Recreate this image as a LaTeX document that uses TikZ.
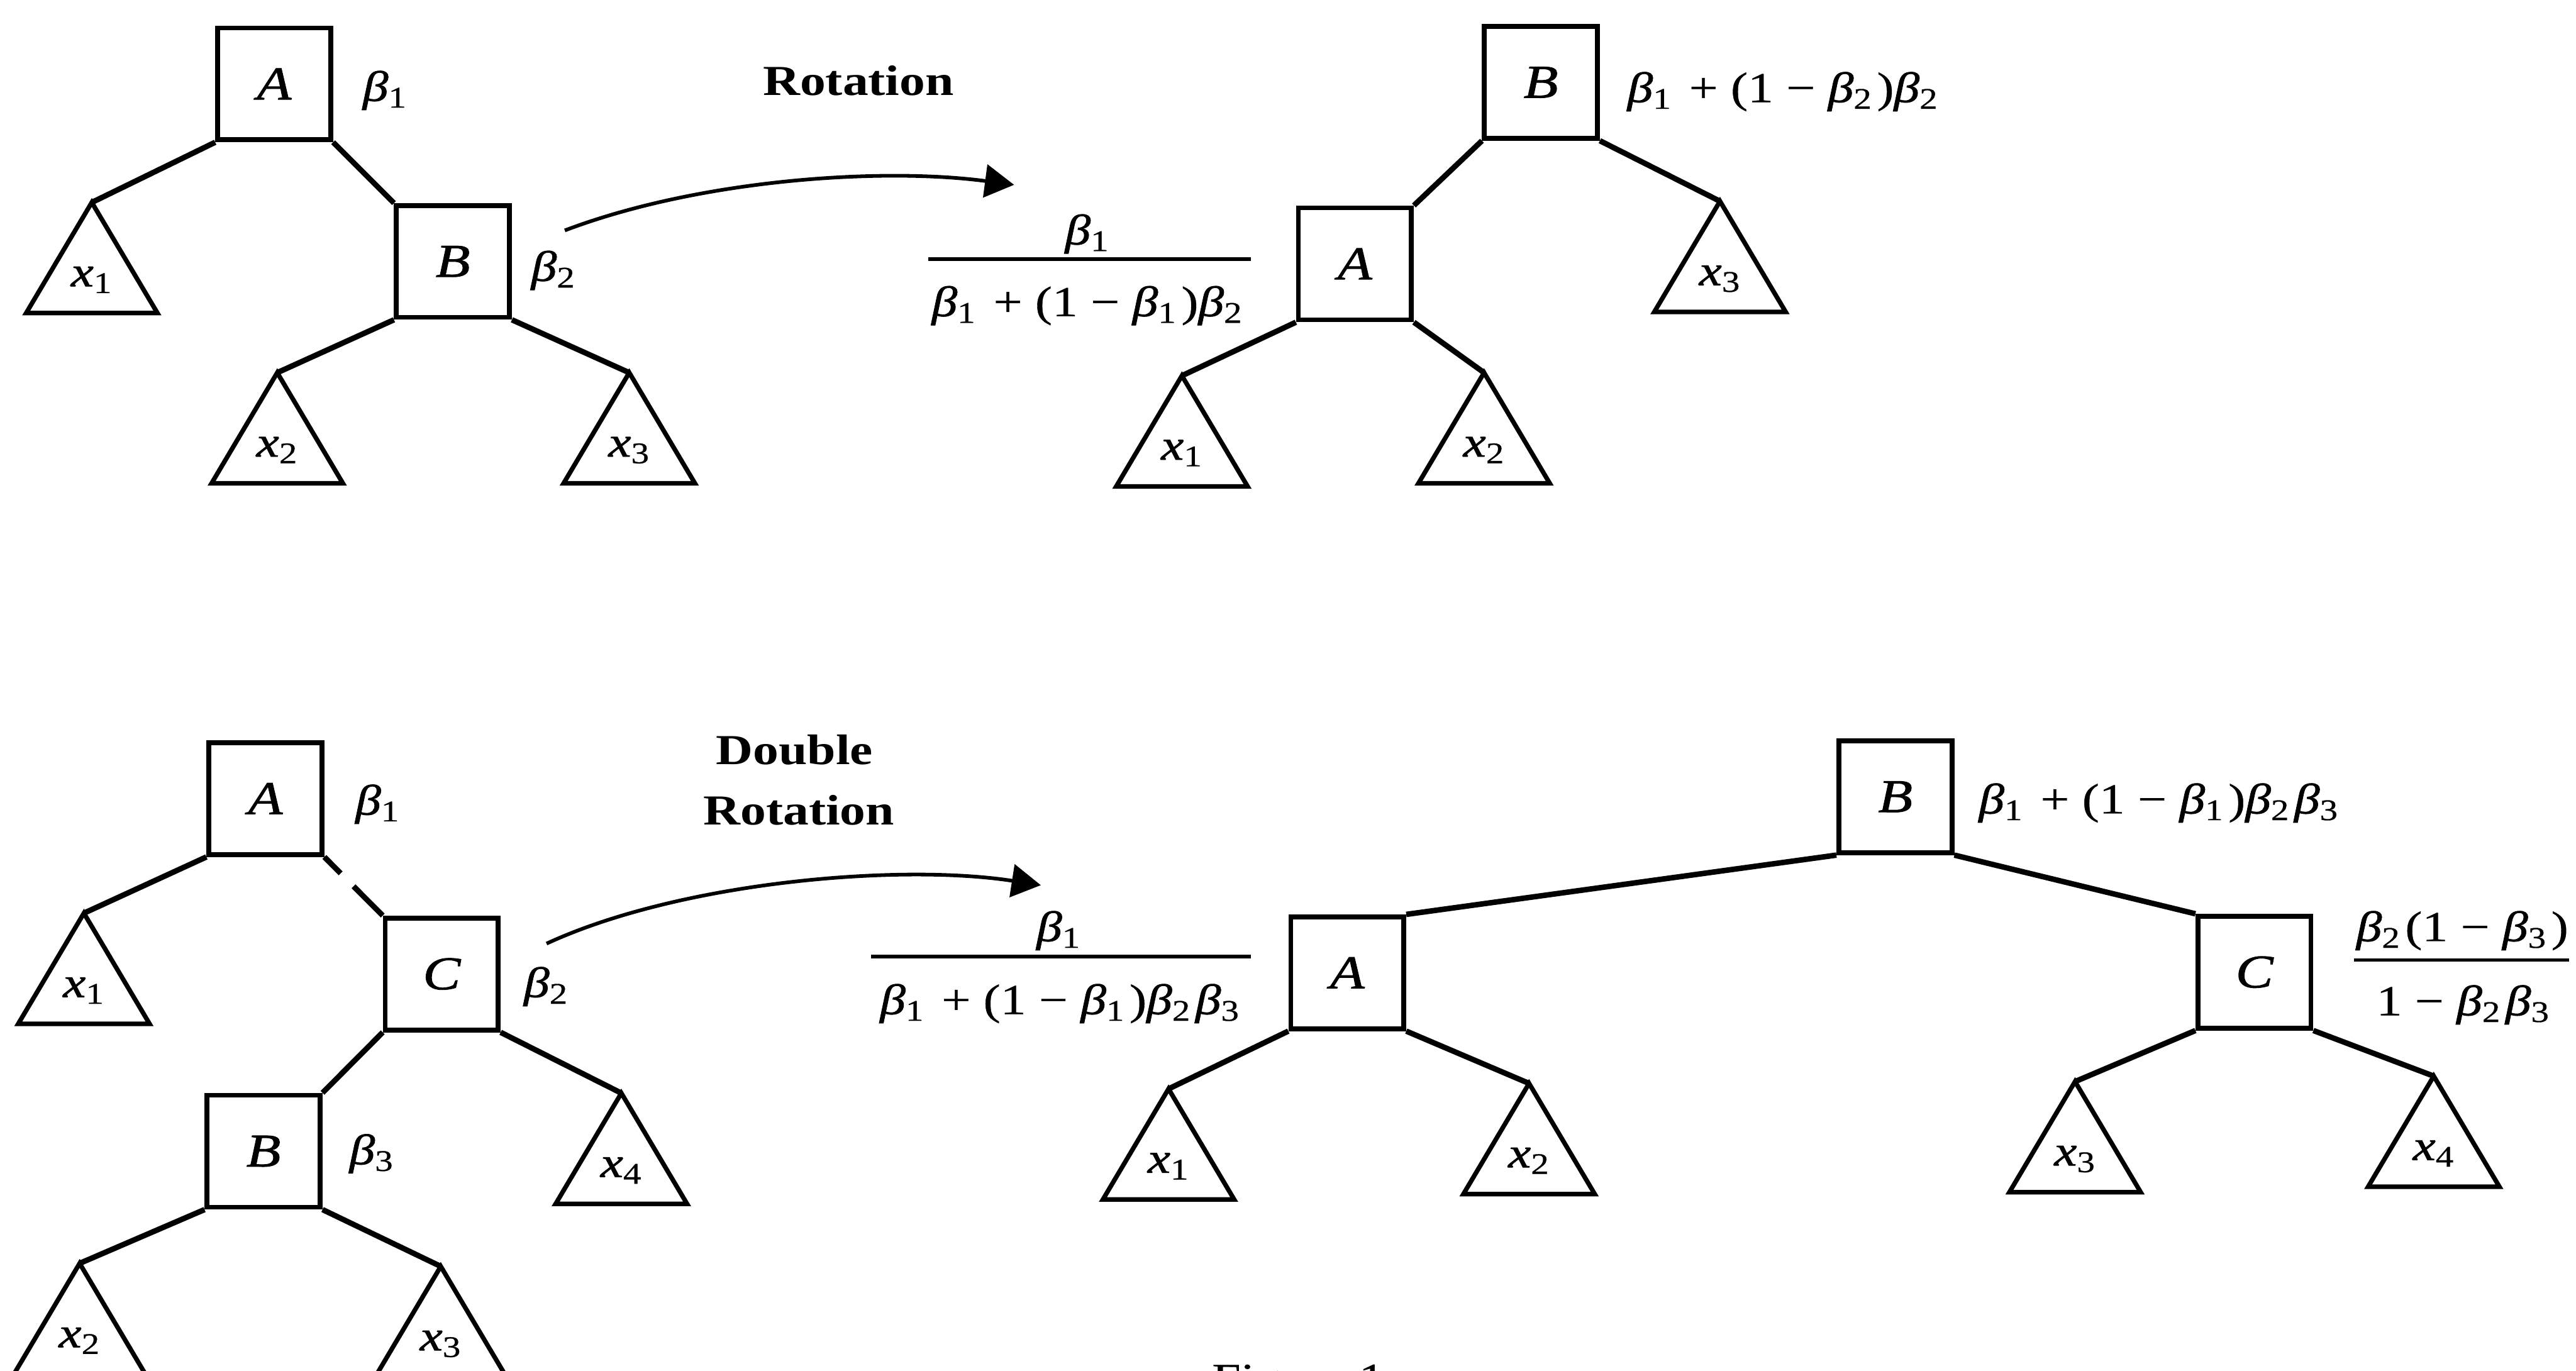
\documentclass[tikz,border=0pt]{standalone}
\usepackage{fontspec}
\setmainfont{Liberation Serif}[FakeStretch=1.2, ItalicFeatures={FakeBold=1.2}, UprightFeatures={FakeBold=0.6}]
\usetikzlibrary{arrows.meta,calc}
\newcommand\Bt[1]{\textit{β}\textsubscript{#1}\kern0.1em}
\newcommand\Pl{\kern0.3em+\kern0.3em}
\newcommand\Mi{\kern0.3em−\kern0.3em}
\newcommand\Xs[1]{\textit{x}\textsubscript{#1}}
\newcommand\lblsize{\fontsize{20}{24}\selectfont}
\newcommand\boxsize{\fontsize{22}{26}\selectfont}
\tikzset{
  bx/.style={draw, line width=0.08cm, minimum width=1.86cm, minimum height=1.84cm, inner sep=0pt, font=\boxsize\itshape},
  edge/.style={line width=0.09cm},
  tri/.style={line width=0.075cm, line join=miter},
  lbl/.style={font=\lblsize, inner sep=0pt},
  ttl/.style={font=\lblsize\bfseries, inner sep=0pt},
  arr/.style={line width=0.06cm, -{Triangle[length=0.48cm,width=0.54cm]}},
  fbar/.style={line width=0.06cm},
}
\newcommand\Tri[3]{%
  \coordinate (#1) at (#2);
  \draw[tri] (#1) -- ++(-1.08,-1.82) -- ++(2.16,0) -- cycle;
  \node[lbl, anchor=base] (#1l) at ($(#1)+(0,-1.38)$) {\Xs{#3}};
}
\begin{document}
\begin{tikzpicture}
\useasboundingbox (0,0) rectangle (42.37,-22.55);

% ---------- top-left tree ----------
\node[bx] (A1) at (4.51,-1.38) {A};
\node[bx] (B1) at (7.45,-4.30) {B};
\Tri{t1}{1.51,-3.33}{1}
\Tri{t2}{4.56,-6.13}{2}
\Tri{t3}{10.35,-6.13}{3}
\draw[edge] (A1.south west) -- (t1);
\draw[edge] (A1.south east) -- (B1.north west);
\draw[edge] (B1.south west) -- (t2);
\draw[edge] (B1.south east) -- (t3);
\node[lbl, anchor=base west] (lA1) at (5.96,-1.66) {\Bt{1}};
\node[lbl, anchor=base west] (lB1) at (8.73,-4.62) {\Bt{2}};

% ---------- rotation arrow ----------
\node[ttl, anchor=base] (rot) at (14.12,-1.57) {Rotation};
\coordinate (r0) at (9.29,-3.79);
\coordinate (r1) at (16.68,-3.04);
\draw[arr] (r0) .. controls (11.50,-2.95) and (14.50,-2.75) .. (r1);

% ---------- top-right tree ----------
\node[bx] (B2) at (25.345,-1.355) {B};
\node[bx] (A2) at (22.285,-4.34) {A};
\Tri{u1}{19.44,-6.18}{1}
\Tri{u2}{24.41,-6.13}{2}
\Tri{u3}{28.29,-3.31}{3}
\draw[edge] (B2.south west) -- (A2.north east);
\draw[edge] (B2.south east) -- (u3);
\draw[edge] (A2.south west) -- (u1);
\draw[edge] (A2.south east) -- (u2);
\node[lbl, anchor=base west] (lB2) at (26.76,-1.68) {\Bt{1}\Pl(1\Mi\Bt{2})\Bt{2}};
\node[lbl, anchor=base] (fAn) at (17.92,-4.02) {\Bt{1}};
\draw[fbar] (15.27,-4.26) -- (20.57,-4.26);
\node[lbl, anchor=base] (fAd) at (17.92,-5.20) {\Bt{1}\Pl(1\Mi\Bt{1})\Bt{2}};

% ---------- bottom-left tree ----------
\node[bx] (A3) at (4.365,-13.135) {A};
\node[bx] (C3) at (7.265,-16.02) {C};
\node[bx] (B3) at (4.335,-18.935) {B};
\Tri{v1}{1.38,-15.02}{1}
\Tri{v2}{1.31,-20.78}{2}
\Tri{v3}{7.25,-20.83}{3}
\Tri{v4}{10.22,-17.98}{4}
\draw[edge] (A3.south west) -- (v1);
\draw[edge] (A3.south east) -- ($(A3.south east)!0.28!(C3.north west)$);
\draw[edge] ($(A3.south east)!0.50!(C3.north west)$) -- (C3.north west);
\draw[edge] (C3.south west) -- (B3.north east);
\draw[edge] (C3.south east) -- (v4);
\draw[edge] (B3.south west) -- (v2);
\draw[edge] (B3.south east) -- (v3);
\node[lbl, anchor=base west] (lA3) at (5.84,-13.40) {\Bt{1}};
\node[lbl, anchor=base west] (lC3) at (8.61,-16.40) {\Bt{2}};
\node[lbl, anchor=base west] (lB3) at (5.74,-19.15) {\Bt{3}};

% ---------- double rotation arrow ----------
\node[ttl, anchor=base] (dbl) at (13.07,-12.57) {Double};
\node[ttl, anchor=base] (drot) at (13.14,-13.57) {Rotation};
\coordinate (d0) at (8.99,-15.52);
\coordinate (d1) at (17.12,-14.56);
\draw[arr] (d0) .. controls (11.20,-14.50) and (14.80,-14.20) .. (d1);

% ---------- bottom-right tree ----------
\node[bx] (B4) at (31.175,-13.105) {B};
\node[bx] (A4) at (22.16,-16.00) {A};
\node[bx] (C4) at (37.08,-15.99) {C};
\Tri{w1}{19.22,-17.91}{1}
\Tri{w2}{25.15,-17.82}{2}
\Tri{w3}{34.13,-17.79}{3}
\Tri{w4}{40.03,-17.70}{4}
\draw[edge] (B4.south west) -- (A4.north east);
\draw[edge] (B4.south east) -- (C4.north west);
\draw[edge] (A4.south west) -- (w1);
\draw[edge] (A4.south east) -- (w2);
\draw[edge] (C4.south west) -- (w3);
\draw[edge] (C4.south east) -- (w4);
\node[lbl, anchor=base west] (lB4) at (32.54,-13.38) {\Bt{1}\Pl(1\Mi\Bt{1})\Bt{2}\Bt{3}};
\node[lbl, anchor=base] (gAn) at (17.45,-15.48) {\Bt{1}};
\draw[fbar] (14.33,-15.73) -- (20.57,-15.73);
\node[lbl, anchor=base] (gAd) at (17.47,-16.68) {\Bt{1}\Pl(1\Mi\Bt{1})\Bt{2}\Bt{3}};
\node[lbl, anchor=base] (gCn) at (40.50,-15.48) {\Bt{2}(1\Mi\Bt{3})};
\draw[fbar] (38.72,-15.79) -- (42.26,-15.79);
\node[lbl, anchor=base] (gCd) at (40.55,-16.70) {1\Mi\Bt{2}\Bt{3}};

% ---------- caption (cut off at the bottom edge) ----------
\node[lbl, anchor=base west] (cap) at (19.93,-22.91) {Figure 1};
\end{tikzpicture}
\end{document}
